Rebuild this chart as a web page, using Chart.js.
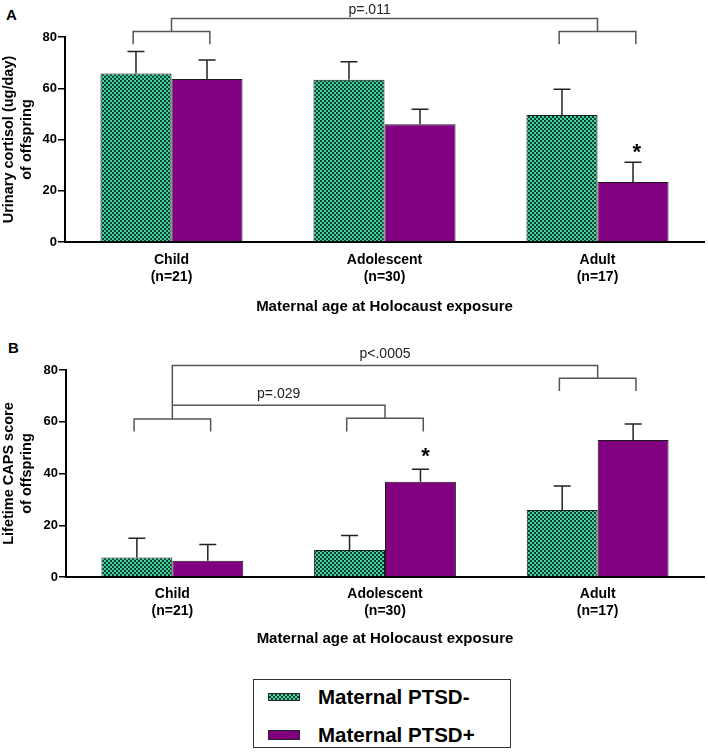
<!DOCTYPE html>
<html>
<head>
<meta charset="utf-8">
<script src="https://cdn.jsdelivr.net/npm/chart.js@4.4.1/dist/chart.umd.min.js"></script>
<style>
  html, body { margin: 0; padding: 0; background: #fff; }
  body { width: 708px; height: 752px; position: relative; overflow: hidden; font-family: "Liberation Sans", Arial, sans-serif; }
  canvas { position: absolute; left: 0; }
  #cA { top: 0; }
  #cB { top: 330px; }
  .panel { position: absolute; font-weight: bold; font-size: 15px; color: #000; }
  #legend { position: absolute; left: 253px; top: 679px; width: 256px; height: 67px; border: 1.5px solid #333; }
  .sw { position: absolute; width: 32px; border: 1px solid #222; box-sizing: border-box; }
  .sw.neg { background-color: #3fd6a0; background-image: repeating-conic-gradient(#123f31 0 25%, #3fd6a0 0 50%); background-size: 4px 4px; }
  .sw.pos { background: #800080; }
  .lt { position: absolute; font-weight: bold; font-size: 20.5px; line-height: 24px; color: #000; white-space: nowrap; }
</style>
</head>
<body>
<div class="panel" style="left:6px; top:6px;">A</div>
<div class="panel" style="left:8px; top:339px;">B</div>
<canvas id="cA" width="708" height="320"></canvas>
<canvas id="cB" width="708" height="330"></canvas>
<div id="legend"></div>
<div class="sw neg" style="left:268px; top:693px; height:8px;"></div>
<div class="lt" style="left:318px; top:685px;">Maternal PTSD-</div>
<div class="sw pos" style="left:268px; top:730px; height:10px;"></div>
<div class="lt" style="left:318px; top:723px;">Maternal PTSD+</div>
<script>
// ---- data ----
const categories = [["Child", "(n=21)"], ["Adolescent", "(n=30)"], ["Adult", "(n=17)"]];
const seriesNames = ["Maternal PTSD-", "Maternal PTSD+"];
const yTicks = [0, 20, 40, 60, 80];

const cortisolNeg = [65.8, 63.3, 49.6];
const cortisolNegErr = [8.5, 7.0, 10.0];
const cortisolPos = [63.6, 46.0, 23.4];
const cortisolPosErr = [7.4, 5.8, 7.7];

const capsNeg = [7.5, 10.4, 25.9];
const capsNegErr = [7.5, 5.6, 9.3];
const capsPos = [6.3, 36.8, 52.9];
const capsPosErr = [6.3, 4.8, 6.2];

const pTextsA = ["p=.011"];
const pTextsB = ["p<.0005", "p=.029"];

// ---- styling ----
Chart.defaults.font.family = '"Liberation Sans", Arial, sans-serif';
Chart.defaults.color = '#000';

function checker() {
  const c = document.createElement('canvas');
  c.width = 4; c.height = 4;
  const g = c.getContext('2d');
  g.fillStyle = '#3fd6a0'; g.fillRect(0, 0, 4, 4);
  g.fillStyle = '#123f31'; g.fillRect(0, 0, 2, 2); g.fillRect(2, 2, 2, 2);
  return g.createPattern(c, 'repeat');
}

const errorBars = {
  id: 'errorBars',
  afterDatasetsDraw(chart) {
    const { ctx } = chart; const y = chart.scales.y;
    ctx.save();
    ctx.strokeStyle = '#222'; ctx.lineWidth = 1.5;
    chart.data.datasets.forEach((ds, di) => {
      const meta = chart.getDatasetMeta(di);
      meta.data.forEach((bar, i) => {
        const top = y.getPixelForValue(ds.data[i] + ds.errors[i]);
        ctx.beginPath();
        ctx.moveTo(bar.x, bar.y); ctx.lineTo(bar.x, top);
        ctx.moveTo(bar.x - 8.5, top); ctx.lineTo(bar.x + 8.5, top);
        ctx.stroke();
      });
    });
    ctx.restore();
  }
};

const annotations = {
  id: 'annotations',
  afterDraw(chart, args, opts) {
    const { ctx } = chart; const x = chart.scales.x, y = chart.scales.y;
    ctx.save();
    ctx.strokeStyle = '#555'; ctx.lineWidth = 1.5;
    (opts.lines || []).forEach(pts => {
      ctx.beginPath();
      pts.forEach((p, k) => {
        const px = x.getPixelForValue(p[0]), py = y.getPixelForValue(p[1]);
        if (k === 0) ctx.moveTo(px, py); else ctx.lineTo(px, py);
      });
      ctx.stroke();
    });
    ctx.fillStyle = '#222';
    ctx.font = '14px "Liberation Sans", Arial, sans-serif';
    ctx.textAlign = 'center'; ctx.textBaseline = 'middle';
    (opts.texts || []).forEach(t => {
      ctx.fillText(t.text, x.getPixelForValue(t.x), y.getPixelForValue(t.y));
    });
    ctx.fillStyle = '#000';
    ctx.font = 'bold 22px "Liberation Sans", Arial, sans-serif';
    ctx.textBaseline = 'alphabetic';
    (opts.stars || []).forEach(s => {
      ctx.fillText('*', x.getPixelForValue(s.x), y.getPixelForValue(s.y) + 0.58 * 22);
    });
    ctx.restore();
  }
};

function bracket(i, yTop, yBottom) {
  return [[i - 0.18, yBottom], [i - 0.18, yTop], [i + 0.18, yTop], [i + 0.18, yBottom]];
}

function makeChart(id, neg, negErr, pos, posErr, yTitle, cfg) {
  const pattern = checker();
  return new Chart(document.getElementById(id), {
    type: 'bar',
    data: {
      labels: categories,
      datasets: [
        { label: seriesNames[0], data: neg, errors: negErr, backgroundColor: pattern, borderColor: '#1a1a1a', borderWidth: 1, borderSkipped: 'bottom' },
        { label: seriesNames[1], data: pos, errors: posErr, backgroundColor: '#800080', borderColor: '#1a1a1a', borderWidth: 1, borderSkipped: 'bottom' }
      ]
    },
    options: {
      responsive: false,
      animation: false,
      devicePixelRatio: 1,
      events: [],
      layout: { padding: { top: cfg.padTop, right: 4, left: 0, bottom: cfg.padBottom } },
      datasets: { bar: { categoryPercentage: 0.667, barPercentage: 1.0 } },
      plugins: {
        legend: { display: false },
        tooltip: { enabled: false },
        annotations: cfg.ann
      },
      scales: {
        x: {
          grid: { display: false },
          border: { display: true, color: '#000', width: 2 },
          ticks: { font: { size: 14, weight: 'bold', lineHeight: 1.25 }, color: '#000', padding: cfg.tickPad, maxRotation: 0 },
          title: { display: true, text: 'Maternal age at Holocaust exposure', font: { size: 15, weight: 'bold', lineHeight: 1.2 }, color: '#000', padding: 0 },
          afterFit: s => { s.height = cfg.xHeight; }
        },
        y: {
          min: 0, max: 80,
          afterBuildTicks: s => { s.ticks = yTicks.map(v => ({ value: v })); },
          grid: { display: true, drawOnChartArea: false, drawTicks: true, tickLength: 7, color: '#000', lineWidth: 1.5 },
          border: { display: true, color: '#000', width: 2 },
          ticks: { font: { size: 13, weight: 'bold' }, color: '#000', padding: 1 },
          title: { display: true, text: yTitle, font: { size: 14.5, weight: 'bold', lineHeight: 1.25 }, color: '#000', padding: { top: 0, bottom: 0 } },
          afterFit: s => { s.width = cfg.yWidth; }
        }
      }
    },
    plugins: [errorBars, annotations]
  });
}

makeChart('cA', cortisolNeg, cortisolNegErr, cortisolPos, cortisolPosErr,
  ['Urinary cortisol (ug/day)', 'of offspring'],
  {
    padTop: 37, padBottom: 4, xHeight: 74, yWidth: 65, tickPad: 1,
    ann: {
      lines: [
        bracket(0, 82.1, 77.2),
        bracket(2, 82.1, 77.2),
        [[0, 82.1], [0, 87.2], [2, 87.2], [2, 82.1]]
      ],
      texts: [{ text: pTextsA[0], x: 0.93, y: 90.5 }],
      stars: [{ x: 2.185, y: 37.3 }]
    }
  });

makeChart('cB', capsNeg, capsNegErr, capsPos, capsPosErr,
  ['Lifetime CAPS score', 'of offspring'],
  {
    padTop: 40, padBottom: 12.3, xHeight: 70.7, yWidth: 66, tickPad: 0,
    ann: {
      lines: [
        bracket(0, 61.1, 56.2),
        bracket(1, 61.4, 56.2),
        bracket(2, 76.8, 71.9),
        [[0, 61.1], [0, 81.7], [2, 81.7], [2, 76.8]],
        [[0, 66.4], [1, 66.4], [1, 61.4]]
      ],
      texts: [{ text: pTextsB[0], x: 1.0, y: 86.2 }, { text: pTextsB[1], x: 0.5, y: 70.7 }],
      stars: [{ x: 1.19, y: 49.1 }]
    }
  });
</script>
</body>
</html>
